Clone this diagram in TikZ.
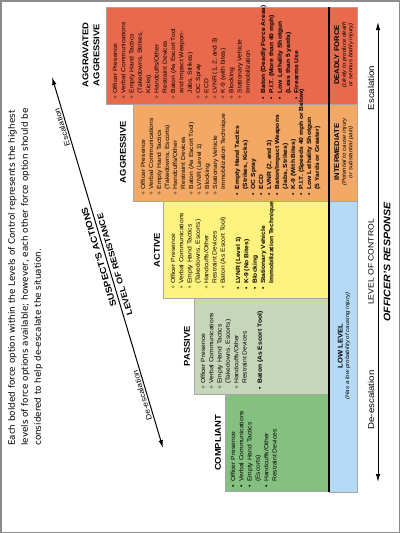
\documentclass[tikz,border=0pt]{standalone}
\usepackage{fontspec}
\setmainfont{Liberation Sans}[FakeStretch=1.12]
\newfontfamily\parafont{DejaVu Sans}
\newfontfamily\symfont{DejaVu Sans}
\usetikzlibrary{arrows.meta}
\definecolor{cred}{HTML}{E8694B}
\definecolor{corange}{HTML}{F3A865}
\definecolor{cyellow}{HTML}{FFF380}
\definecolor{cpassive}{HTML}{C7D6B9}
\definecolor{cgreen}{HTML}{84C180}
\definecolor{cblue}{HTML}{B4DAF6}
\newcommand\lvdia{\makebox[6pt][l]{{\symfont\fontsize{5}{5}\selectfont ✧}}}
\newcommand\lvbul{\makebox[6pt][l]{\textbf{•}}}
\newcommand\lvidt{\hspace*{6pt}}
\newcommand\lvbo[1]{\textbf{#1}}
\begin{document}
\begin{tikzpicture}[x=1pt,y=-1pt,
  blk/.style={draw=black!35, line width=0.5pt},
  lst/.style={rotate=90, anchor=north west, inner sep=0pt, align=left, font=\fontsize{6}{8.3}\selectfont},
  hdr/.style={rotate=90, inner sep=0pt, align=center, font=\bfseries\fontsize{8.4}{11}\selectfont},
  cell/.style={rotate=90, inner sep=0pt, align=center, font=\itshape\fontsize{5.5}{6.6}\selectfont},
  lbl/.style={rotate=90, inner sep=0pt},
  arr/.style={line width=1pt, {Latex[length=8pt,width=4.5pt]}-{Latex[length=8pt,width=4.5pt]}}
]
\useasboundingbox (0,0) rectangle (400,533);
\draw[black!45, line width=1.5pt] (0.75,0.75) rectangle (399.25,532.25);

% blocks
\draw[blk, fill=cred] (106,7) rectangle (329,104);
\draw[blk, fill=corange] (133,104) rectangle (329,201);
\draw[blk, fill=cyellow] (163,201) rectangle (329,298);
\draw[blk, fill=cpassive] (194,298) rectangle (329,394);
\draw[blk, fill=cgreen] (225,394) rectangle (329,491);
\draw[blk, fill=cred] (329,7) rectangle (357,104);
\draw[blk, fill=corange] (329,104) rectangle (357,201);
\draw[blk, fill=cblue] (329,201) rectangle (357,492);
\draw[line width=2pt] (329,7) -- (329,492);

% headers
\node[hdr] (hagg) at (91,55) {AGGRAVATED\\AGGRESSIVE};
\node[hdr] (hag) at (123,152) {AGGRESSIVE};
\node[hdr] (hact) at (157,250) {ACTIVE};
\node[hdr] (hpas) at (187,346) {PASSIVE};
\node[hdr] (hcom) at (218,443) {COMPLIANT};

% lists
\node[lst] (lagg) at (112.5,99.5) {%
\lvdia Officer Presence\\
\lvdia Verbal Communications\\
\lvdia Empty Hand Tactics\\
\lvidt (Takedowns, Strikes,\\
\lvidt Kicks)\\
\lvdia Handcuffs/Other\\
\lvidt Restraint Devices\\
\lvdia Baton (As Escort Tool\\
\lvidt and Impact Weapon-\\
\lvidt Jabs, Strikes)\\
\lvdia OC Spray\\
\lvdia ECD\\
\lvdia LVNR (1, 2, and 3)\\
\lvdia K-9 (with bites)\\
\lvdia Blocking\\
\lvdia Stationary Vehicle\\
\lvidt Immobilization\\[7pt]
\lvbul\lvbo{Baton (Deadly Force Areas)}\\
\lvbul\lvbo{P.I.T. (More than 40 mph)}\\
\lvbul\lvbo{Low Lethality Shotgun}\\
\lvidt\lvbo{(Less than 5 yards)}\\
\lvbul\lvbo{Firearms Use}};

\node[lst, font=\fontsize{6}{8}\selectfont] (lag) at (140.5,195.5) {%
\lvdia Officer Presence\\
\lvdia Verbal Communications\\
\lvdia Empty Hand Tactics\\
\lvidt (Takedowns, Escorts)\\
\lvdia Handcuffs/Other\\
\lvidt Restraint Devices\\
\lvdia Baton (As Escort Tool)\\
\lvdia LVNR (Level 1)\\
\lvdia Blocking\\
\lvdia Stationary Vehicle\\
\lvidt Immobilization Technique\\[6pt]
\lvbul\lvbo{Empty Hand Tactics}\\
\lvidt\lvbo{(Strikes, Kicks)}\\
\lvbul\lvbo{OC Spray}\\
\lvbul\lvbo{ECD}\\
\lvbul\lvbo{LVNR (2, and 3)}\\
\lvbul\lvbo{Baton/Impact Weapons}\\
\lvidt\lvbo{(Jabs, Strikes)}\\
\lvbul\lvbo{K-9 (With Bites)}\\
\lvbul\lvbo{P.I.T. (Speeds 40 mph or Below)}\\
\lvbul\lvbo{Low Lethality Shotgun}\\
\lvidt\lvbo{(5 Yards or Greater)}};

\node[lst] (lact) at (170.5,290) {%
\lvdia Officer Presence\\
\lvdia Verbal Communications\\
\lvdia Empty Hand Tactics\\
\lvidt (Takedowns, Escorts)\\
\lvdia Handcuffs/Other\\
\lvidt Restraint Devices\\
\lvdia Baton (As Escort Tool)\\[7pt]
\lvbul\lvbo{LVNR (Level 1)}\\
\lvbul\lvbo{K-9 (No Bites)}\\
\lvbul\lvbo{Blocking}\\
\lvbul\lvbo{Stationary Vehicle}\\
\lvidt\lvbo{Immobilization Technique}};

\node[lst] (lpas) at (200.5,390) {%
\lvdia Officer Presence\\
\lvdia Verbal Communications\\
\lvdia Empty Hand Tactics\\
\lvidt (Takedowns, Escorts)\\
\lvdia Handcuffs/Other\\
\lvidt Restraint Devices\\[7pt]
\lvbul\lvbo{Baton (As Escort Tool)}};

\node[lst] (lcom) at (230.5,488) {%
\lvbul Officer Presence\\
\lvbul Verbal Communications\\
\lvbul Empty Hand Tactics\\
\lvidt (Escorts)\\
\lvbul Handcuffs/Other\\
\lvidt Restraint Devices};

% level of control cells
\node[cell] (cdf) at (344,55) {{\upshape\bfseries\fontsize{6.8}{8}\selectfont DEADLY FORCE}\\
(Likely to produce death\\
or serious bodily injury)};
\node[cell] (cint) at (344,152) {{\upshape\bfseries\fontsize{6.8}{8}\selectfont INTERMEDIATE}\\
(Potential to cause injury\\
or substantial pain)};
\node[cell] (clow) at (344,346) {{\upshape\bfseries\fontsize{6.8}{8}\selectfont LOW LEVEL}\\
(Has a low probability of causing injury)};

% right arrow and labels
\coordinate (rtop) at (378,22);
\coordinate (rbot) at (378,482);
\draw[arr] (rbot) -- (rtop);
\node[lbl, font=\fontsize{8.6}{10}\selectfont] (resc) at (371,88) {Escalation};
\node[lbl, font=\fontsize{8.6}{10}\selectfont] (rdesc) at (371,400) {De-escalation};
\node[lbl, font=\fontsize{7.7}{10}\selectfont] (rloc) at (371,262) {LEVEL OF CONTROL};
\node[lbl, font=\bfseries\itshape\fontsize{9.5}{11}\selectfont] (ror) at (387,262) {OFFICER'S RESPONSE};

% diagonal arrow and labels
\coordinate (dlo) at (163,448);
\coordinate (dhi) at (52,77);
\draw[arr] (dlo) -- (dhi)
  node[pos=0.868, sloped, allow upside down, above=1.5pt, inner sep=0pt, font=\fontsize{7.5}{9}\selectfont] (desc) {Escalation}
  node[pos=0.146, sloped, allow upside down, above=1.5pt, inner sep=0pt, font=\fontsize{7.5}{9}\selectfont] (ddesc) {De-escalation}
  node[pos=0.52, sloped, allow upside down, above=3pt, inner sep=0pt, font=\bfseries\fontsize{8.8}{10}\selectfont] (dsa) {SUSPECT'S ACTIONS}
  node[pos=0.49, sloped, allow upside down, below=3pt, inner sep=0pt, font=\bfseries\fontsize{8.2}{10}\selectfont] (dlr) {LEVEL OF RESISTANCE};

% explanatory text
\node[rotate=90, anchor=north west, inner sep=0pt, align=left, font=\parafont\fontsize{8.8}{13}\selectfont] (para) at (8,446) {Each bolded force option within the Levels of Control represents the highest\\
levels of force options available; however, each other force option should be\\
considered to help de-escalate the situation.};
\end{tikzpicture}
\end{document}
